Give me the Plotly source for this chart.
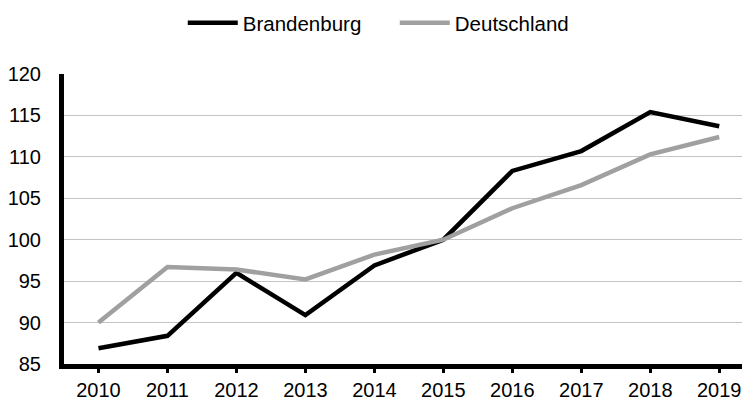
import plotly.graph_objects as go

jahre = ['2010', '2011', '2012', '2013', '2014', '2015', '2016', '2017', '2018', '2019']
brandenburg = [86.9, 88.4, 96.0, 90.9, 96.9, 100.0, 108.3, 110.7, 115.4, 113.7]
deutschland = [90.0, 96.7, 96.4, 95.2, 98.2, 100.0, 103.8, 106.6, 110.3, 112.4]
y_ticks = [85, 90, 95, 100, 105, 110, 115, 120]

fig = go.Figure()
fig.add_trace(go.Scatter(x=jahre, y=brandenburg, name='Brandenburg', mode='lines',
                         line=dict(color='#000000', width=4.5)))
fig.add_trace(go.Scatter(x=jahre, y=deutschland, name='Deutschland', mode='lines',
                         line=dict(color='#a0a0a0', width=4.5)))

fig.update_layout(
    width=746, height=400,
    margin=dict(l=64, r=4, t=74, b=36, autoexpand=False),
    paper_bgcolor='white', plot_bgcolor='white',
    font=dict(family='Liberation Sans, Arial', size=20, color='black'),
    legend=dict(orientation='h', x=0.245, xanchor='left', xref='container',
                y=0.943, yanchor='middle', yref='container',
                font=dict(size=20.5), itemwidth=50, entrywidth=147, entrywidthmode='pixels'),
    showlegend=True,
)
fig.update_xaxes(type='category', range=[-0.5, 9.33], showline=True, linecolor='black', linewidth=5,
                 ticks='outside', ticklen=4, tickwidth=3, tickcolor='black',
                 showgrid=False, tickfont=dict(size=20))
fig.update_yaxes(range=[85, 120], tickvals=y_ticks, showline=True, linecolor='black', linewidth=5,
                 showgrid=True, gridcolor='#c4c4c4', gridwidth=1, ticks='',
                 ticklabelstandoff=14, tickfont=dict(size=20), zeroline=False)

fig.write_html("out.html", config={'displayModeBar': False},
               post_script="document.body.style.margin='0';")
